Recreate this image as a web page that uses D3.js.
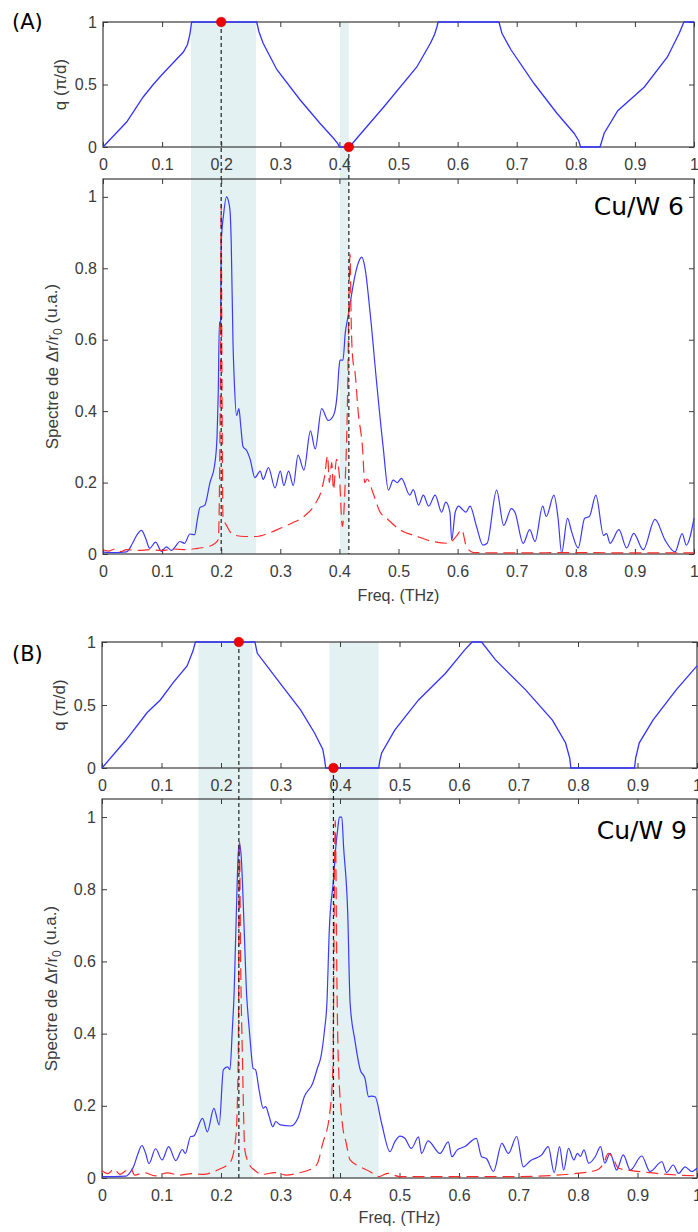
<!DOCTYPE html>
<html><head><meta charset="utf-8">
<script src="https://cdn.jsdelivr.net/npm/d3@7"></script>
<style>
html,body{margin:0;padding:0;background:#fff;}
svg{display:block;}
</style></head>
<body>
<svg id="chart" width="698" height="1232"></svg>
<script>
// ---------------- DATA ----------------
const xTicks = [0,0.1,0.2,0.3,0.4,0.5,0.6,0.7,0.8,0.9,1];
const qTicks = [0,0.5,1];
const sTicks = [0,0.2,0.4,0.6,0.8,1];
const panelLetters = ["(A)","(B)"];
const sampleNames = ["Cu/W 6","Cu/W 9"];
const xLabel = "Freq. (THz)";

// Panel A: dispersion q(f)
const dispA = [[0,0],[0.02,0.1],[0.04,0.2],[0.068,0.4],[0.085,0.5],[0.1,0.58],[0.12,0.68],[0.136,0.76],[0.143,0.82],[0.147,0.9],[0.15,1],[0.26,1],[0.264,0.92],[0.271,0.83],[0.294,0.62],[0.333,0.38],[0.367,0.19],[0.39,0.07],[0.397,0.03],[0.40,0],[0.417,0],[0.435,0.1],[0.475,0.32],[0.531,0.64],[0.554,0.83],[0.561,0.9],[0.565,0.96],[0.567,1],[0.67,1],[0.675,0.91],[0.69,0.78],[0.729,0.51],[0.768,0.27],[0.797,0.11],[0.805,0.05],[0.808,0],[0.841,0],[0.848,0.11],[0.871,0.29],[0.916,0.48],[0.955,0.72],[0.975,0.91],[0.983,1],[1,1]];
// Panel A: spectrum (blue solid, red dashed)
const blueA = [[0,0.005],[0.02,0.004],[0.04,0.006],[0.05,0.03],[0.058,0.055],[0.065,0.066],[0.072,0.045],[0.079,0.016],[0.089,0.033],[0.099,0.007],[0.107,0.02],[0.116,0.01],[0.123,0.022],[0.13,0.035],[0.138,0.03],[0.147,0.056],[0.155,0.054],[0.16,0.1],[0.164,0.13],[0.172,0.136],[0.181,0.2],[0.189,0.25],[0.193,0.33],[0.195,0.45],[0.197,0.65],[0.199,0.64],[0.2,0.87],[0.204,0.95],[0.209,1.0],[0.212,0.99],[0.215,0.96],[0.217,0.87],[0.22,0.59],[0.222,0.49],[0.226,0.388],[0.23,0.407],[0.233,0.36],[0.237,0.30],[0.243,0.29],[0.249,0.265],[0.257,0.214],[0.266,0.232],[0.271,0.209],[0.28,0.242],[0.291,0.185],[0.3,0.232],[0.306,0.192],[0.314,0.232],[0.322,0.192],[0.33,0.277],[0.34,0.235],[0.351,0.345],[0.359,0.294],[0.37,0.407],[0.381,0.374],[0.39,0.388],[0.397,0.463],[0.399,0.515],[0.401,0.543],[0.406,0.543],[0.41,0.62],[0.414,0.66],[0.418,0.70],[0.426,0.777],[0.433,0.82],[0.438,0.831],[0.443,0.804],[0.452,0.675],[0.463,0.48],[0.474,0.30],[0.483,0.179],[0.491,0.207],[0.498,0.2],[0.505,0.212],[0.519,0.165],[0.525,0.18],[0.534,0.137],[0.542,0.165],[0.551,0.134],[0.562,0.165],[0.573,0.117],[0.58,0.145],[0.587,0.117],[0.59,0.039],[0.596,0.117],[0.602,0.134],[0.608,0.125],[0.614,0.117],[0.621,0.134],[0.632,0.077],[0.643,0.025],[0.65,0.03],[0.666,0.179],[0.678,0.08],[0.691,0.127],[0.697,0.117],[0.711,0.03],[0.722,0.068],[0.731,0.035],[0.744,0.134],[0.75,0.105],[0.763,0.165],[0.77,0.1],[0.776,0.003],[0.786,0.1],[0.793,0.062],[0.804,0.017],[0.815,0.1],[0.823,0.105],[0.834,0.165],[0.847,0.052],[0.852,0.057],[0.858,0.03],[0.873,0.068],[0.886,0.017],[0.898,0.058],[0.914,0.012],[0.934,0.097],[0.951,0.039],[0.968,0.006],[0.98,0.057],[0.987,0.025],[1.0,0.1]];
const redA = [[0,0.012],[0.01,0.008],[0.02,0.014],[0.03,0.007],[0.04,0.012],[0.06,0.01],[0.08,0.012],[0.1,0.01],[0.12,0.014],[0.14,0.012],[0.16,0.016],[0.175,0.02],[0.185,0.025],[0.195,0.04],[0.197,0.17],[0.199,0.6],[0.2,0.98],[0.201,0.6],[0.203,0.105],[0.21,0.077],[0.22,0.054],[0.24,0.049],[0.26,0.049],[0.28,0.058],[0.3,0.072],[0.32,0.087],[0.34,0.105],[0.36,0.143],[0.37,0.18],[0.375,0.218],[0.38,0.275],[0.383,0.2],[0.387,0.256],[0.39,0.18],[0.395,0.265],[0.4,0.218],[0.405,0.077],[0.41,0.21],[0.414,0.46],[0.416,0.7],[0.418,0.84],[0.42,0.647],[0.423,0.54],[0.426,0.515],[0.432,0.394],[0.439,0.30],[0.443,0.2],[0.447,0.21],[0.457,0.17],[0.469,0.117],[0.48,0.1],[0.502,0.068],[0.53,0.05],[0.558,0.035],[0.584,0.03],[0.598,0.05],[0.607,0.068],[0.615,0.02],[0.627,0.004],[0.7,0.003],[0.8,0.004],[0.9,0.003],[1.0,0.003]];
const bandsA = [[0.149,0.259],[0.401,0.416]];
const markersA = [[0.2,1],[0.416,0]];

// Panel B
const dispB = [[0,0],[0.04,0.22],[0.076,0.44],[0.098,0.54],[0.12,0.68],[0.143,0.81],[0.153,0.93],[0.157,1],[0.257,1],[0.261,0.91],[0.295,0.70],[0.334,0.46],[0.357,0.28],[0.371,0.15],[0.374,0.07],[0.376,0],[0.465,0],[0.467,0.06],[0.47,0.12],[0.492,0.30],[0.532,0.54],[0.577,0.75],[0.61,0.94],[0.622,1],[0.638,1],[0.661,0.86],[0.712,0.62],[0.757,0.38],[0.779,0.2],[0.786,0.08],[0.788,0],[0.895,0],[0.897,0.08],[0.903,0.2],[0.926,0.38],[0.965,0.62],[1,0.81]];
const blueB = [[0,0.004],[0.02,0.004],[0.04,0.005],[0.047,0.015],[0.053,0.031],[0.06,0.065],[0.067,0.09],[0.073,0.07],[0.079,0.04],[0.09,0.081],[0.101,0.05],[0.112,0.087],[0.124,0.048],[0.135,0.079],[0.14,0.068],[0.149,0.115],[0.154,0.116],[0.169,0.165],[0.177,0.128],[0.188,0.193],[0.197,0.147],[0.204,0.3],[0.211,0.308],[0.215,0.3],[0.219,0.41],[0.222,0.51],[0.225,0.687],[0.229,0.9],[0.231,0.927],[0.234,0.89],[0.239,0.687],[0.243,0.51],[0.246,0.44],[0.249,0.382],[0.254,0.304],[0.258,0.3],[0.264,0.244],[0.271,0.193],[0.275,0.198],[0.281,0.17],[0.287,0.142],[0.292,0.156],[0.3,0.147],[0.317,0.144],[0.329,0.165],[0.34,0.225],[0.354,0.262],[0.362,0.304],[0.368,0.336],[0.374,0.41],[0.378,0.484],[0.382,0.687],[0.389,0.826],[0.393,0.918],[0.396,0.964],[0.399,1.0],[0.403,1.0],[0.406,0.918],[0.413,0.733],[0.417,0.484],[0.425,0.382],[0.434,0.3],[0.442,0.276],[0.448,0.225],[0.453,0.227],[0.459,0.225],[0.47,0.151],[0.484,0.073],[0.492,0.1],[0.501,0.116],[0.509,0.11],[0.52,0.082],[0.532,0.114],[0.537,0.068],[0.548,0.103],[0.568,0.068],[0.582,0.1],[0.588,0.059],[0.597,0.078],[0.61,0.087],[0.629,0.11],[0.638,0.059],[0.646,0.054],[0.658,0.018],[0.672,0.096],[0.683,0.068],[0.697,0.115],[0.708,0.031],[0.72,0.048],[0.739,0.064],[0.75,0.087],[0.76,0.015],[0.769,0.087],[0.776,0.022],[0.784,0.082],[0.793,0.05],[0.799,0.068],[0.804,0.06],[0.81,0.078],[0.818,0.041],[0.829,0.059],[0.838,0.087],[0.845,0.041],[0.854,0.068],[0.865,0.022],[0.876,0.064],[0.888,0.022],[0.907,0.061],[0.921,0.018],[0.941,0.045],[0.949,0.015],[0.96,0.036],[0.969,0.013],[0.98,0.031],[0.991,0.018],[1.0,0.027]];
const redB = [[0,0.02],[0.01,0.012],[0.02,0.025],[0.03,0.01],[0.04,0.02],[0.048,0.027],[0.055,0.008],[0.07,0.015],[0.09,0.006],[0.11,0.014],[0.13,0.008],[0.15,0.012],[0.17,0.01],[0.194,0.022],[0.216,0.045],[0.225,0.115],[0.229,0.336],[0.231,0.936],[0.233,0.6],[0.236,0.336],[0.24,0.078],[0.247,0.04],[0.256,0.022],[0.27,0.01],[0.29,0.015],[0.31,0.008],[0.33,0.014],[0.354,0.027],[0.362,0.04],[0.371,0.096],[0.382,0.17],[0.388,0.3],[0.392,0.99],[0.395,0.52],[0.397,0.336],[0.404,0.15],[0.41,0.1],[0.417,0.05],[0.434,0.031],[0.45,0.018],[0.465,0.004],[0.48,0.013],[0.5,0.004],[0.6,0.004],[0.7,0.004],[0.81,0.015],[0.832,0.022],[0.843,0.04],[0.851,0.068],[0.859,0.054],[0.868,0.027],[0.893,0.02],[0.92,0.015],[0.95,0.01],[1.0,0.006]];
const bandsB = [[0.162,0.253],[0.382,0.465]];
const markersB = [[0.23,1],[0.389,0]];

// ---------------- LAYOUT ----------------
const svg = d3.select("#chart");
const TICKFONT = "'Liberation Sans', Arial, sans-serif";
const panels = [
  {disp:dispA, blue:blueA, red:redA, bands:bandsA, markers:markersA, letter:panelLetters[0], name:sampleNames[0],
   x:[103,694], qy:[147,22], sy:[554,179], letterPos:[12,29], namePos:[684,215], qLabX:66, sLabX:58, xLabY:601},
  {disp:dispB, blue:blueB, red:redB, bands:bandsB, markers:markersB, letter:panelLetters[1], name:sampleNames[1],
   x:[102,697], qy:[768,642], sy:[1178,799], letterPos:[12,661], namePos:[687,839], qLabX:65, sLabX:57, xLabY:1223}
];

function styleAxis(g, showLabels){
  g.select(".domain").remove();
  g.selectAll(".tick line").attr("stroke","#3a3a3a").attr("stroke-width",1);
  g.selectAll(".tick text").attr("fill","#3c3c3c").style("font-family",TICKFONT).style("font-size","16px");
  if(!showLabels) g.selectAll(".tick text").remove();
}

panels.forEach(p => {
  const x = d3.scaleLinear().domain([0,1]).range(p.x);
  const yq = d3.scaleLinear().domain([0,1]).range(p.qy);
  const ys = d3.scaleLinear().domain([0,1.05]).range(p.sy);
  const fmt = d => d3.format("~g")(d);

  // shaded bands spanning both axes
  svg.append("g").selectAll("rect").data(p.bands).join("rect")
    .attr("x", d => x(d[0])).attr("width", d => x(d[1]) - x(d[0]))
    .attr("y", p.qy[1]).attr("height", p.sy[0] - p.qy[1])
    .attr("fill", "#e3f1f3");

  // ---- dispersion axes ----
  const gq = svg.append("g");
  gq.append("g").attr("transform",`translate(0,${p.qy[0]})`)
    .call(d3.axisBottom(x).tickValues(xTicks).tickFormat(fmt).tickSize(-5).tickPadding(12))
    .call(g => styleAxis(g,true));
  gq.append("g").attr("transform",`translate(0,${p.qy[1]})`)
    .call(d3.axisTop(x).tickValues(xTicks).tickSize(-5)).call(g => styleAxis(g,false));
  gq.append("g").attr("transform",`translate(${p.x[0]},0)`)
    .call(d3.axisLeft(yq).tickValues(qTicks).tickFormat(fmt).tickSize(-5).tickPadding(6))
    .call(g => styleAxis(g,true));
  gq.append("g").attr("transform",`translate(${p.x[1]},0)`)
    .call(d3.axisRight(yq).tickValues(qTicks).tickSize(-5)).call(g => styleAxis(g,false));
  gq.append("rect").attr("x",p.x[0]).attr("y",p.qy[1]).attr("width",p.x[1]-p.x[0]).attr("height",p.qy[0]-p.qy[1])
    .attr("fill","none").attr("stroke","#3a3a3a").attr("stroke-width",1.2);

  // ---- spectrum axes ----
  const gs = svg.append("g");
  gs.append("g").attr("transform",`translate(0,${p.sy[0]})`)
    .call(d3.axisBottom(x).tickValues(xTicks).tickFormat(fmt).tickSize(-5).tickPadding(12))
    .call(g => styleAxis(g,true));
  gs.append("g").attr("transform",`translate(0,${p.sy[1]})`)
    .call(d3.axisTop(x).tickValues(xTicks).tickSize(-5)).call(g => styleAxis(g,false));
  gs.append("g").attr("transform",`translate(${p.x[0]},0)`)
    .call(d3.axisLeft(ys).tickValues(sTicks).tickFormat(fmt).tickSize(-5).tickPadding(6))
    .call(g => styleAxis(g,true));
  gs.append("g").attr("transform",`translate(${p.x[1]},0)`)
    .call(d3.axisRight(ys).tickValues(sTicks).tickSize(-5)).call(g => styleAxis(g,false));
  gs.append("rect").attr("x",p.x[0]).attr("y",p.sy[1]).attr("width",p.x[1]-p.x[0]).attr("height",p.sy[0]-p.sy[1])
    .attr("fill","none").attr("stroke","#3a3a3a").attr("stroke-width",1.2);

  // dispersion line
  svg.append("path").datum(p.disp)
    .attr("d", d3.line().x(d => x(d[0])).y(d => yq(d[1])))
    .attr("fill","none").attr("stroke","#3333ff").attr("stroke-width",1.3);

  // spectra
  svg.append("path").datum(p.blue)
    .attr("d", d3.line().curve(d3.curveMonotoneX).x(d => x(d[0])).y(d => ys(d[1])))
    .attr("fill","none").attr("stroke","#3a3aff").attr("stroke-width",1.2);
  svg.append("path").datum(p.red)
    .attr("d", d3.line().curve(d3.curveMonotoneX).x(d => x(d[0])).y(d => ys(d[1])))
    .attr("fill","none").attr("stroke","#ff2a2a").attr("stroke-width",1.2).attr("stroke-dasharray","12,6");

  // vertical dashed markers
  svg.append("g").selectAll("line").data(p.markers).join("line")
    .attr("x1", d => x(d[0])).attr("x2", d => x(d[0]))
    .attr("y1", d => yq(d[1])).attr("y2", p.sy[0])
    .attr("stroke","#222").attr("stroke-width",1.2).attr("stroke-dasharray","4,3");
  svg.append("g").selectAll("circle").data(p.markers).join("circle")
    .attr("cx", d => x(d[0])).attr("cy", d => yq(d[1])).attr("r",4.8)
    .attr("fill","#ee0000").attr("stroke","#cc0000").attr("stroke-width",0.5);

  // labels
  const cxq = (p.qy[0]+p.qy[1])/2, cys = (p.sy[0]+p.sy[1])/2;
  svg.append("text").attr("transform",`translate(${p.qLabX},${cxq}) rotate(-90)`)
    .attr("text-anchor","middle").attr("fill","#3c3c3c")
    .style("font-family",TICKFONT).style("font-size","17px").text("q (π/d)");
  const sl = svg.append("text").attr("transform",`translate(${p.sLabX},${cys}) rotate(-90)`)
    .attr("text-anchor","middle").attr("fill","#3c3c3c")
    .style("font-family",TICKFONT).style("font-size","17px");
  sl.append("tspan").text("Spectre de Δr/r");
  sl.append("tspan").attr("dy","0.3em").style("font-size","12px").text("0");
  sl.append("tspan").attr("dy","-0.3em").text(" (u.a.)");
  svg.append("text").attr("x",(p.x[0]+p.x[1])/2).attr("y",p.xLabY).attr("text-anchor","middle")
    .attr("fill","#3c3c3c").style("font-family",TICKFONT).style("font-size","16px").text(xLabel);
  svg.append("text").attr("x",p.namePos[0]).attr("y",p.namePos[1]).attr("text-anchor","end")
    .attr("fill","#000").style("font-family","'DejaVu Sans', sans-serif").style("font-size","25px").text(p.name);
  svg.append("text").attr("x",p.letterPos[0]).attr("y",p.letterPos[1])
    .attr("fill","#000").style("font-family","'DejaVu Sans', sans-serif").style("font-size","21px").text(p.letter);
});
</script>
</body></html>
